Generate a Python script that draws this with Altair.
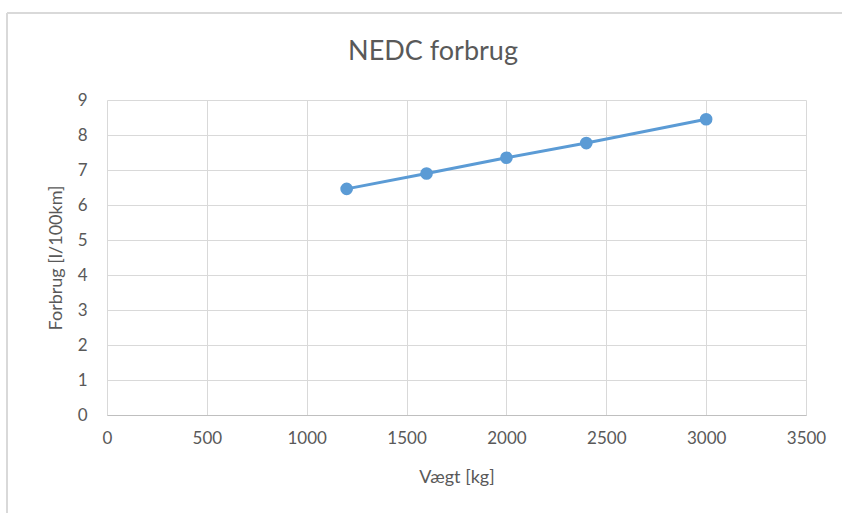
import altair as alt
import pandas as pd

# Fuel consumption by vehicle weight (NEDC cycle)
weight_kg = [1200, 1600, 2000, 2400, 3000]
consumption = [6.46, 6.90, 7.35, 7.77, 8.45]
x_ticks = [0, 500, 1000, 1500, 2000, 2500, 3000, 3500]
y_ticks = [0, 1, 2, 3, 4, 5, 6, 7, 8, 9]

df = pd.DataFrame({"weight": weight_kg, "consumption": consumption})

FONT = "Lato"
TEXT = "#595959"
GRID = "#d9d9d9"
BLUE = "#5b9bd5"

x_enc = alt.X(
    "weight:Q",
    title="Vægt [kg]",
    scale=alt.Scale(domain=[0, 3500], nice=False, zero=True),
    axis=alt.Axis(values=x_ticks, format="d", grid=True, ticks=False, labelFlush=False,
                  domain=True, domainColor="#bfbfbf", labelPadding=15, titlePadding=22),
)
y_enc = alt.Y(
    "consumption:Q",
    title="Forbrug [l/100km]",
    scale=alt.Scale(domain=[0, 9], nice=False),
    axis=alt.Axis(values=y_ticks, format="d", grid=True, ticks=False, labelFlush=False,
                  domain=False, labelPadding=20, titlePadding=12),
)

one = pd.DataFrame({"a": [0]})

# outer chart frame: left and top edges
frame_left = alt.Chart(one).mark_rule(color=GRID, strokeWidth=2).encode(
    x=alt.value(-100), y=alt.value(-87), y2=alt.value(460)
)
frame_top = alt.Chart(one).mark_rule(color=GRID, strokeWidth=2).encode(
    x=alt.value(-100), x2=alt.value(800), y=alt.value(-87)
)

title = alt.Chart(one).mark_text(
    text="NEDC forbrug", font=FONT, fontSize=27, color=TEXT, align="center", baseline="middle"
).encode(x=alt.value(326), y=alt.value(-48))

line = alt.Chart(df).mark_line(color=BLUE, strokeWidth=3).encode(x=x_enc, y=y_enc)
points = alt.Chart(df).mark_circle(color=BLUE, size=160, opacity=1).encode(x=x_enc, y=y_enc)

chart = alt.layer(frame_left, frame_top, title, line, points).properties(
    width=699,
    height=315,
    autosize=alt.AutoSizeParams(type="none"),
    padding={"left": 107, "top": 100, "right": 36, "bottom": 98},
).configure(
    background="white",
    view=alt.ViewConfig(stroke=None),
    axis=alt.AxisConfig(
        labelFont=FONT, titleFont=FONT, labelFontSize=17, titleFontSize=18,
        labelColor=TEXT, titleColor=TEXT, titleFontWeight="normal",
        gridColor=GRID, gridWidth=1,
    ),
)

chart.save("out.html", embed_options={"renderer": "svg", "actions": False})
